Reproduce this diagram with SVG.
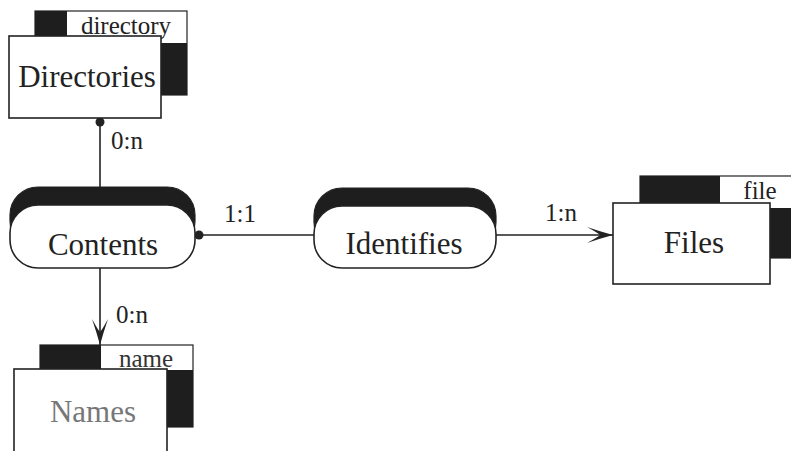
<svg xmlns="http://www.w3.org/2000/svg" width="791" height="451" viewBox="0 0 791 451">
  <style>
    .bg { fill: #ffffff; }
    .box { fill: #ffffff; stroke: #222; stroke-width: 1.6; }
    .back { fill: #ffffff; stroke: #222; stroke-width: 1.2; }
    .dark { fill: #1e1e1e; }
    .pill { fill: #ffffff; stroke: #222; stroke-width: 1.6; }
    .cap { fill: #1e1e1e; stroke: #222; stroke-width: 1.2; }
    .t { font-family: "Liberation Serif", "Times New Roman", serif; fill: #222; text-anchor: middle; }
    .big { font-size: 31px; }
    .small { font-size: 25px; }
    .edge { stroke: #222; stroke-width: 1.6; fill: none; }
  </style>
  <defs>
    <marker id="arrow" viewBox="0 0 26 16" refX="26" refY="8" markerWidth="26" markerHeight="16" markerUnits="userSpaceOnUse" orient="auto">
      <path d="M26,8 Q13,4.5 0,0 Q11,6 13,8 Q11,10 0,16 Q13,11.5 26,8 Z" fill="#222"/>
    </marker>
  </defs>
  <rect class="bg" x="0" y="0" width="791" height="451"/>

  <!-- connectors -->
  <g id="connectors">
    <line class="edge" x1="100" y1="118" x2="100" y2="192"/>
    <circle cx="100" cy="122" r="4.5" fill="#222"/>
    <line class="edge" x1="196" y1="235" x2="316" y2="235"/>
    <circle cx="199" cy="235" r="4.5" fill="#222"/>
    <line class="edge" x1="496" y1="235" x2="613" y2="235" marker-end="url(#arrow)"/>
    <line class="edge" x1="100" y1="268" x2="100" y2="345" marker-end="url(#arrow)"/>
    <text class="t small" x="127" y="149">0:n</text>
    <text class="t small" x="240" y="222">1:1</text>
    <text class="t small" x="561" y="221">1:n</text>
    <text class="t small" x="132" y="323">0:n</text>
  </g>

  <!-- entity: Directories -->
  <g id="directories">
    <rect class="back" x="35" y="11" width="152" height="84"/>
    <rect class="dark" x="35" y="11" width="32" height="25"/>
    <rect class="dark" x="161" y="43" width="26" height="52"/>
    <text class="t small" x="126" y="34">directory</text>
    <rect class="box" x="9" y="36" width="152" height="82"/>
    <text class="t big" x="87" y="87">Directories</text>
  </g>

  <!-- relationship: Contents -->
  <g id="contents">
    <rect class="cap" x="10" y="187" width="185" height="62" rx="28"/>
    <rect class="pill" x="10" y="205" width="185" height="63" rx="28"/>
    <text class="t big" x="103" y="255">Contents</text>
  </g>

  <!-- relationship: Identifies -->
  <g id="identifies">
    <rect class="cap" x="314" y="188" width="182" height="62" rx="28"/>
    <rect class="pill" x="314" y="206" width="182" height="62" rx="28"/>
    <text class="t big" x="404" y="254">Identifies</text>
  </g>

  <!-- entity: Files -->
  <g id="files">
    <rect class="back" x="640" y="176" width="160" height="82"/>
    <rect class="dark" x="640" y="176" width="80" height="27"/>
    <rect class="dark" x="770" y="208" width="30" height="50"/>
    <text class="t small" x="760" y="199">file</text>
    <rect class="box" x="613" y="203" width="157" height="81"/>
    <text class="t big" x="694" y="253">Files</text>
  </g>

  <!-- entity: Names -->
  <g id="names">
    <rect class="back" x="40" y="345" width="153" height="82"/>
    <rect class="dark" x="40" y="345" width="61" height="25"/>
    <rect class="dark" x="167" y="370" width="26" height="57"/>
    <text class="t small" x="146" y="367" style="fill:#333">name</text>
    <rect class="box" x="14" y="369" width="153" height="84"/>
    <text class="t big" x="93" y="422" style="fill:#777">Names</text>
  </g>
</svg>
